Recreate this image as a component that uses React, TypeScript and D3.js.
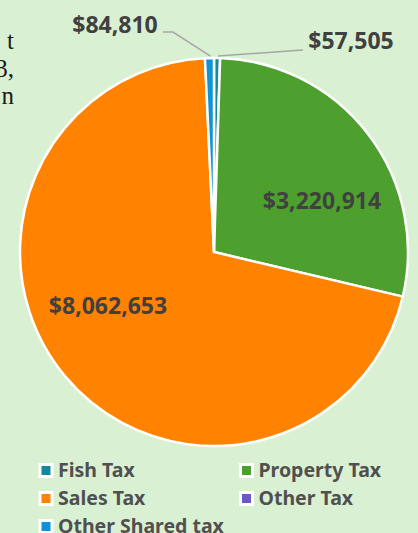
import React from "react";
import * as d3 from "d3";

const categories = ["Fish Tax", "Property Tax", "Sales Tax", "Other Tax", "Other Shared tax"];
const values = [57505, 3220914, 8062653, 0, 84810];
const colors = ["#128A9E", "#4EA02E", "#FF8200", "#6A58C8", "#0F92D6"];
const labelTexts = ["$57,505", "$3,220,914", "$8,062,653", "", "$84,810"];
const sideText = ["t", "3,", "n"];

const W = 418;
const H = 533;
const cx = 214;
const cy = 252;
const R = 194;

// label anchor offsets (relative to pie centre) – layout only
const labelPos: ([number, number] | null)[] = [
  [137, -212],
  [108, -52],
  [-106, 53],
  null,
  [-99, -228],
];

export default function App() {
  const pie = d3
    .pie<number>()
    .value((d) => d)
    .sort(null)
    .startAngle(0)
    .endAngle(Math.PI * 2);
  const arcs = pie(values);
  const arc = d3.arc<d3.PieArcDatum<number>>().innerRadius(0).outerRadius(R);
  const outer = d3.arc<d3.PieArcDatum<number>>().innerRadius(R).outerRadius(R);

  const fishEdge = outer.centroid(arcs[0]);
  const sharedEdge = outer.centroid(arcs[4]);

  return (
    <svg
      width={W}
      height={H}
      style={{ position: "absolute", left: 0, top: 0, display: "block" }}
    >
      <rect x={0} y={0} width={W} height={H} fill="#DAF0D3" />
      {sideText.map((t, i) => (
        <text
          key={i}
          x={14}
          y={49 + i * 27.5}
          textAnchor="end"
          fontFamily="'Liberation Serif', serif"
          fontSize={25}
          fill="#1a1a1a"
        >
          {t}
        </text>
      ))}
      <g transform={`translate(${cx},${cy})`}>
        {arcs.map((a, i) =>
          a.value > 0 ? (
            <path
              key={i}
              d={arc(a) || ""}
              fill={colors[i]}
              stroke="#ffffff"
              strokeWidth={2.5}
              strokeLinejoin="round"
            />
          ) : null
        )}
        {/* leader lines */}
        <polyline
          points={`${-51},${-220} ${-41},${-220} ${sharedEdge[0] + 1},${sharedEdge[1] - 2}`}
          fill="none"
          stroke="#A6A6A6"
          strokeWidth={1.5}
        />
        <polyline
          points={`${89},${-202} ${fishEdge[0] + 1},${fishEdge[1] - 2}`}
          fill="none"
          stroke="#A6A6A6"
          strokeWidth={1.5}
        />
        {arcs.map((a, i) => {
          const p = labelPos[i];
          if (!p || !labelTexts[i]) return null;
          return (
            <text
              key={"l" + i}
              x={p[0]}
              y={p[1]}
              textAnchor="middle"
              dominantBaseline="central"
              fontFamily="'Noto Sans', sans-serif"
              fontWeight="bold"
              fontSize={23}
              fill="#404040"
            >
              {labelTexts[i]}
            </text>
          );
        })}
      </g>
      {categories.map((c, i) => {
        const col = i % 2;
        const row = Math.floor(i / 2);
        const sx = col === 0 ? 46 : 246.5;
        const sy = 470.5 + row * 28;
        return (
          <g key={"lg" + i}>
            <rect
              x={sx - 6}
              y={sy - 6}
              width={12}
              height={12}
              fill={colors[i]}
              stroke="#ffffff"
              strokeWidth={3}
            />
            <text
              x={sx + 12}
              y={sy + 6.5}
              fontFamily="'Noto Sans', sans-serif"
              fontWeight="bold"
              fontSize={19.5}
              fill="#505050"
            >
              {c}
            </text>
          </g>
        );
      })}
    </svg>
  );
}
